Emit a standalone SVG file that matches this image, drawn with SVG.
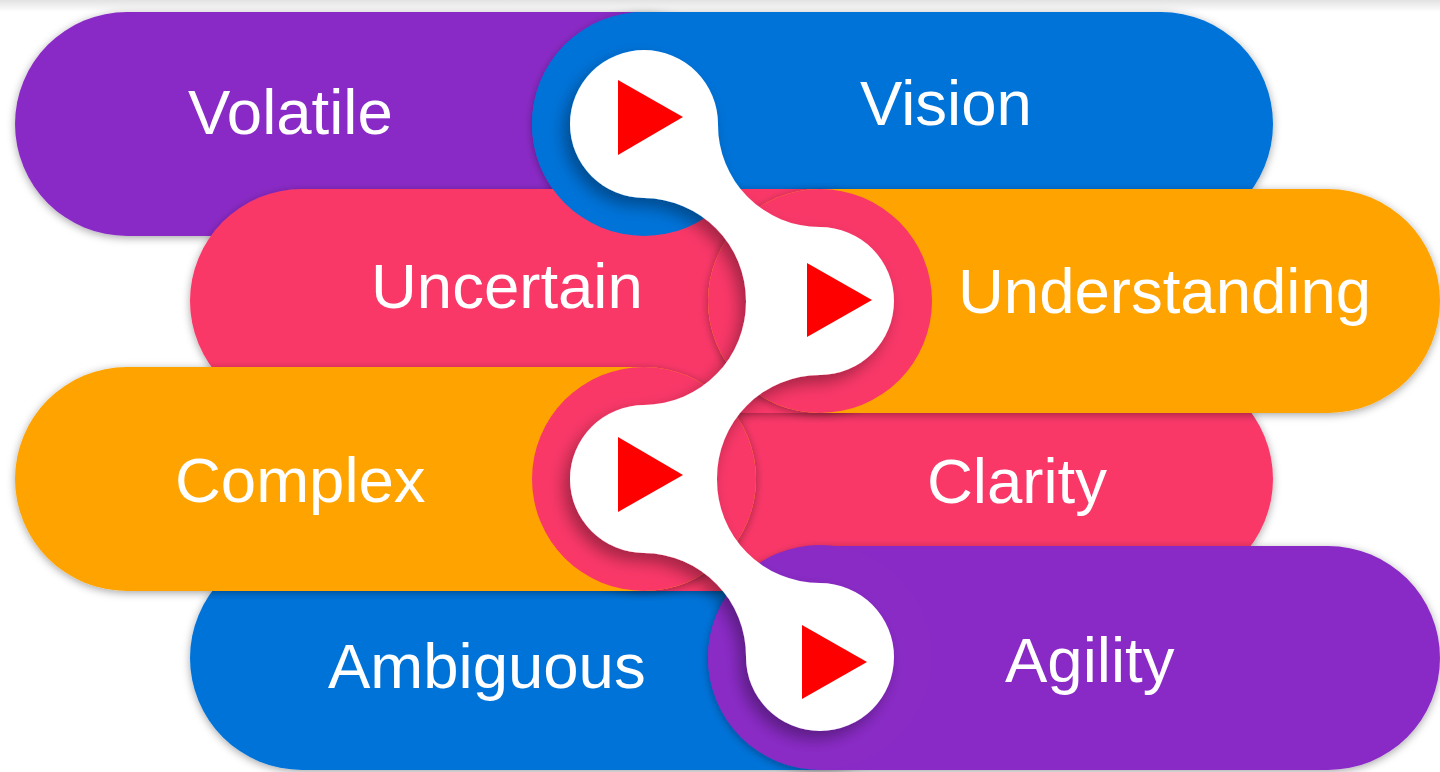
<svg xmlns="http://www.w3.org/2000/svg" width="1440" height="772" viewBox="0 0 1440 772">
  <defs>
    <style>
      .lbl { font-family: "Liberation Sans", Arial, sans-serif; font-size: 63.5px; fill: #ffffff; }
      .pill { filter: url(#pillShadow); }
      .purple { fill: #8A2BC6; }
      .blue { fill: #0073D9; }
      .pink { fill: #F93868; }
      .orange { fill: #FFA300; }
      .play { fill: #FF0000; }
    </style>
    <linearGradient id="topBand" x1="0" y1="0" x2="0" y2="1">
      <stop offset="0" stop-color="#e2e2e2"/>
      <stop offset="1" stop-color="#ffffff"/>
    </linearGradient>
    <filter id="pillShadow" x="-10%" y="-20%" width="120%" height="140%">
      <feDropShadow dx="0" dy="2" stdDeviation="4" flood-color="#000" flood-opacity="0.35"/>
    </filter>
    <filter id="chainShadow" x="-30%" y="-10%" width="160%" height="120%">
      <feDropShadow dx="-6" dy="8" stdDeviation="8" flood-color="#000" flood-opacity="0.35"/>
    </filter>
  </defs>

  <rect x="0" y="0" width="1440" height="772" fill="#ffffff"/>
  <rect x="0" y="0" width="1440" height="12" fill="url(#topBand)"/>

  <g id="node-volatile">
    <rect class="pill purple" x="15" y="12" width="741" height="224" rx="112"/>
    <text class="lbl" x="188" y="134">Volatile</text>
  </g>
  <g id="node-ambiguous">
    <rect class="pill blue" x="190" y="546" width="742" height="224" rx="112"/>
    <text class="lbl" x="328" y="688">Ambiguous</text>
  </g>
  <g id="node-vision">
    <rect class="pill blue" x="532" y="12" width="741" height="224" rx="112"/>
    <text class="lbl" x="860" y="125">Vision</text>
  </g>
  <g id="node-clarity">
    <rect class="pill pink" x="532" y="367" width="741" height="224" rx="112"/>
    <text class="lbl" x="927" y="503">Clarity</text>
  </g>
  <g id="node-uncertain">
    <rect class="pill pink" x="190" y="189" width="742" height="224" rx="112"/>
    <text class="lbl" x="371" y="308">Uncertain</text>
  </g>
  <g id="node-complex">
    <rect class="pill orange" x="15" y="367" width="741" height="224" rx="112"/>
    <text class="lbl" x="175" y="502">Complex</text>
  </g>
  <g id="node-understanding">
    <rect class="pill orange" x="708" y="189" width="732" height="224" rx="112"/>
    <text class="lbl" x="958" y="313">Understanding</text>
  </g>
  <g id="node-agility">
    <rect class="pill purple" x="708" y="546" width="732" height="224" rx="112"/>
    <text class="lbl" x="1005" y="682">Agility</text>
  </g>

  <g id="connectors">
    <g id="halos">
      <circle class="blue" cx="644" cy="124" r="112"/>
      <circle class="pink" cx="820" cy="301" r="112"/>
      <circle class="pink" cx="644" cy="479" r="112"/>
      <circle class="purple" cx="820" cy="657" r="112"/>
    </g>
    <path id="chain" filter="url(#chainShadow)" fill="#ffffff"
      d="M570,124
         A74,74 0 0 1 644,50
         A74,74 0 0 1 718,124
         A102,102 0 0 0 820,227
         A74,74 0 0 1 894,301
         A74,74 0 0 1 820,375
         A103,103 0 0 0 717,479
         A103,103 0 0 0 820,583
         A74,74 0 0 1 894,657
         A74,74 0 0 1 820,731
         A74,74 0 0 1 746,657
         A103,103 0 0 0 644,553
         A74,74 0 0 1 570,479
         A74,74 0 0 1 644,405
         A103,103 0 0 0 746,301
         A103,103 0 0 0 644,198
         A74,74 0 0 1 570,124 Z"/>
    <g id="play-icons">
      <polygon class="play" points="618,80 618,155 683,117"/>
      <polygon class="play" points="807,263 807,337 872,300"/>
      <polygon class="play" points="618,437 618,512 683,475"/>
      <polygon class="play" points="802,625 802,699 867,662"/>
    </g>
  </g>
</svg>
